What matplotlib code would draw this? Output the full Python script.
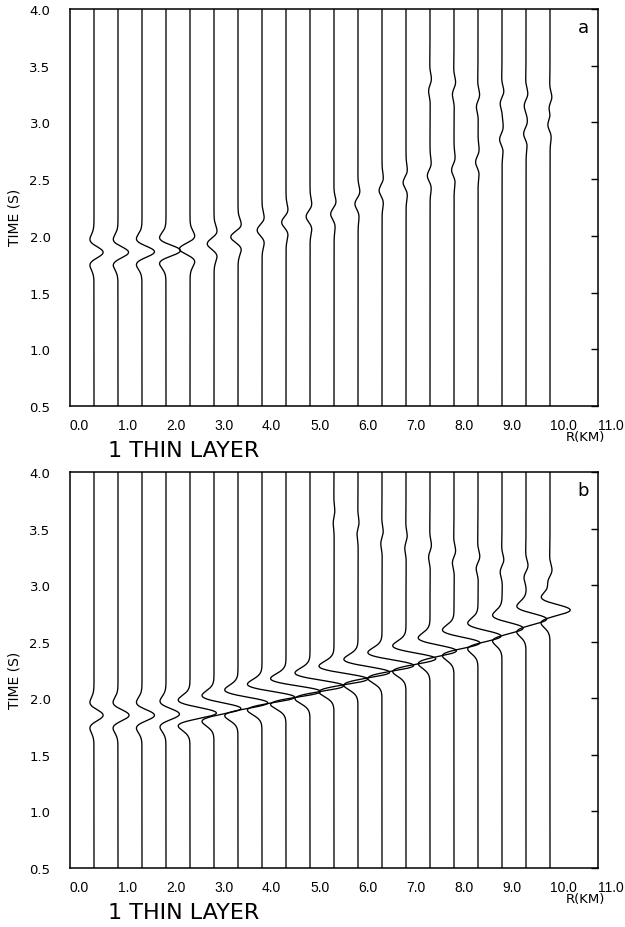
import numpy as np
import matplotlib.pyplot as plt
from matplotlib.transforms import ScaledTranslation

plt.rcParams['font.family'] = ['DejaVu Sans']

# trace offsets (km)
offsets = [0.5, 1.0, 1.5, 2.0, 2.5, 3.0, 3.5, 4.0, 4.5, 5.0,
           5.5, 6.0, 6.5, 7.0, 7.5, 8.0, 8.5, 9.0, 9.5, 10.0]

# panel a: main arrival per trace (centre time s, peak amplitude km, phase deg)
a_time = [1.855, 1.855, 1.86, 1.87, 1.885, 1.93, 1.99, 2.05, 2.12, 2.17,
          2.21, 2.30, 2.40, 2.47, 2.53, 2.58, 2.65, 2.85, 2.90, 2.98]
a_amp = [0.19, 0.22, 0.26, 0.30, 0.22, 0.14, 0.15, 0.10, 0.09, 0.08,
         0.07, 0.065, 0.06, 0.06, 0.055, 0.05, 0.05, 0.05, 0.05, 0.05]
a_phase = [0, 0, 0, 0, 180, 180, 180, 180, 180, 180,
           150, 150, 180, 180, 180, 180, 180, 180, 180, 180]
# panel a: later small arrival
a2_offsets = [7.5, 8.0, 8.5, 9.0, 9.5, 10.0]
a2_time = [3.33, 3.30, 3.19, 3.22, 3.20, 3.17]
a2_amp = [0.035, 0.04, 0.04, 0.045, 0.045, 0.045]

# panel b: main arrival per trace
b_time = [1.85, 1.85, 1.85, 1.86, 1.87, 1.91, 1.96, 2.01, 2.06, 2.11,
          2.17, 2.23, 2.29, 2.35, 2.42, 2.49, 2.55, 2.62, 2.70, 2.78]
b_amp = [0.19, 0.23, 0.26, 0.28, 0.55, 0.56, 0.62, 0.68, 0.72, 0.70,
         0.70, 0.66, 0.66, 0.62, 0.55, 0.54, 0.48, 0.44, 0.43, 0.42]
b_phase = [0] * 20
# panel b: later small arrival
b2_offsets = [5.5, 6.0, 6.5, 7.0, 7.5, 8.0, 8.5, 9.0, 9.5, 10.0]
b2_time = [3.60, 3.50, 3.42, 3.38, 3.30, 3.25, 3.20, 3.17, 3.12, 3.08]
b2_amp = [0.02, 0.025, 0.03, 0.03, 0.035, 0.04, 0.045, 0.045, 0.05, 0.05]

yticks = [0.5, 1.0, 1.5, 2.0, 2.5, 3.0, 3.5, 4.0]
xticks = [0, 1, 2, 3, 4, 5, 6, 7, 8, 9, 10, 11]
caption = "1 THIN LAYER"

FREQ = 3.4
t = np.arange(0.5, 4.0001, 0.002)

# ricker wavelet and its quadrature (hilbert) on a local grid
tau = np.arange(-1.024, 1.024, 0.002)
n = len(tau)
arg = (np.pi * FREQ * tau) ** 2
ric = (1 - 2 * arg) * np.exp(-arg)
hfilt = np.zeros(n)
hfilt[0] = 1
hfilt[1:n // 2] = 2
hfilt[n // 2] = 1
quad = np.imag(np.fft.ifft(np.fft.fft(ric) * hfilt))


def wavelet(t0, amp, phase):
    ph = np.radians(phase)
    w = np.cos(ph) * ric + np.sin(ph) * quad
    return amp * np.interp(t - t0, tau, w, left=0, right=0)


fig = plt.figure(figsize=(6.25, 9.28), dpi=100)
W, H = 625.0, 928.0

panels = [
    dict(box=(70, 10, 598, 407), label='a', times=a_time, amps=a_amp, phases=a_phase,
         o2=a2_offsets, t2=a2_time, amp2=a2_amp),
    dict(box=(70, 473, 598, 869), label='b', times=b_time, amps=b_amp, phases=b_phase,
         o2=b2_offsets, t2=b2_time, amp2=b2_amp),
]

for p in panels:
    x0, y0, x1, y1 = p['box']
    ax = fig.add_axes([x0 / W, 1 - y1 / H, (x1 - x0) / W, (y1 - y0) / H])

    for i, off in enumerate(offsets):
        tr = wavelet(p['times'][i], p['amps'][i], p['phases'][i])
        if off in p['o2']:
            j = p['o2'].index(off)
            tr = tr + wavelet(p['t2'][j], p['amp2'][j], 90)
        ax.plot(off + tr, t, color='k', lw=0.95, solid_joinstyle='round')

    ax.set_xlim(0, 11)
    ax.set_ylim(0.5, 4.0)
    ax.set_yticks(yticks)
    ax.set_yticklabels(["%.1f" % v for v in yticks], fontsize=9.5)
    ax.set_xticks(xticks)
    ax.set_xticklabels(["%.1f" % v for v in xticks], fontsize=10, ha='left',
                       family='Liberation Sans')
    shift = ScaledTranslation(-2 / 100, 0, fig.dpi_scale_trans)
    for lab in ax.get_xticklabels():
        lab.set_transform(lab.get_transform() + shift)
    ax.tick_params(axis='y', left=False, right=True, direction='in', length=5,
                   width=1, pad=14)
    ax.tick_params(axis='x', length=0, pad=9)
    for s in ax.spines.values():
        s.set_linewidth(1.1)

    fig.text(15 / W, 1 - ((y0 + y1) / 2 + 9) / H, "TIME (S)", rotation=90,
             ha='center', va='center', fontsize=10)
    fig.text(605 / W, 1 - (y1 + 31) / H, "R(KM)", ha='right', va='center',
             fontsize=9.5)
    fig.text(583 / W, 1 - (y0 + 18) / H, p['label'], ha='center', va='center',
             fontsize=13)
    fig.text(108 / W, 1 - (y1 + 44) / H, caption, ha='left', va='center',
             fontsize=16)

fig.savefig("out.png", dpi=100)
